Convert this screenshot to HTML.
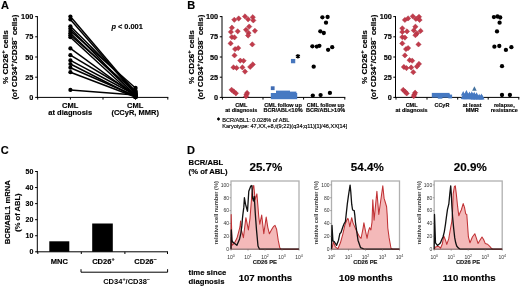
<!DOCTYPE html>
<html><head><meta charset="utf-8"><style>
html,body{margin:0;padding:0;background:#fff;}
body{width:520px;height:287px;overflow:hidden;}
svg{display:block;font-family:"Liberation Sans", sans-serif;filter:blur(0.35px);}
text{stroke-width:0.15px;}
</style></head><body>
<svg width="520" height="287" viewBox="0 0 520 287" xmlns="http://www.w3.org/2000/svg">
<rect width="520" height="287" fill="#fff"/>
<text x="1.0" y="9.0" font-size="11" text-anchor="start" font-weight="bold" fill="#000" stroke="#000" >A</text>
<text x="187.2" y="9.0" font-size="11" text-anchor="start" font-weight="bold" fill="#000" stroke="#000" >B</text>
<text x="0.8" y="154.0" font-size="11" text-anchor="start" font-weight="bold" fill="#000" stroke="#000" >C</text>
<text x="186.9" y="154.0" font-size="11" text-anchor="start" font-weight="bold" fill="#000" stroke="#000" >D</text>
<line x1="37.4" y1="16.1" x2="37.4" y2="97.9" stroke="#000" stroke-width="1" />
<line x1="35.199999999999996" y1="97.4" x2="37.4" y2="97.4" stroke="#000" stroke-width="1" />
<text x="33.3" y="99.9" font-size="7.3" text-anchor="end" font-weight="bold" fill="#000" stroke="#000" >0</text>
<line x1="35.199999999999996" y1="77.2" x2="37.4" y2="77.2" stroke="#000" stroke-width="1" />
<text x="33.3" y="79.7" font-size="7.3" text-anchor="end" font-weight="bold" fill="#000" stroke="#000" >25</text>
<line x1="35.199999999999996" y1="57.0" x2="37.4" y2="57.0" stroke="#000" stroke-width="1" />
<text x="33.3" y="59.5" font-size="7.3" text-anchor="end" font-weight="bold" fill="#000" stroke="#000" >50</text>
<line x1="35.199999999999996" y1="36.8" x2="37.4" y2="36.8" stroke="#000" stroke-width="1" />
<text x="33.3" y="39.3" font-size="7.3" text-anchor="end" font-weight="bold" fill="#000" stroke="#000" >75</text>
<line x1="35.199999999999996" y1="16.599999999999994" x2="37.4" y2="16.599999999999994" stroke="#000" stroke-width="1" />
<text x="33.3" y="19.099999999999994" font-size="7.3" text-anchor="end" font-weight="bold" fill="#000" stroke="#000" >100</text>
<line x1="36.9" y1="97.4" x2="168.3" y2="97.4" stroke="#000" stroke-width="1" />
<line x1="37.7" y1="97.4" x2="37.7" y2="99.60000000000001" stroke="#000" stroke-width="1" />
<line x1="70.4" y1="97.4" x2="70.4" y2="99.60000000000001" stroke="#000" stroke-width="1" />
<line x1="103.0" y1="97.4" x2="103.0" y2="99.60000000000001" stroke="#000" stroke-width="1" />
<line x1="135.5" y1="97.4" x2="135.5" y2="99.60000000000001" stroke="#000" stroke-width="1" />
<line x1="167.8" y1="97.4" x2="167.8" y2="99.60000000000001" stroke="#000" stroke-width="1" />
<text transform="translate(7.85,57.1) rotate(-90)" font-size="8.1" text-anchor="middle" font-weight="bold" stroke="#000">% CD26<tspan baseline-shift="3.40" font-size="5.83">+</tspan> cells</text>
<text transform="translate(17.150000000000002,57.1) rotate(-90)" font-size="8.0" text-anchor="middle" font-weight="bold" stroke="#000">(of CD34<tspan baseline-shift="3.36" font-size="5.76">+</tspan>/CD38<tspan baseline-shift="3.36" font-size="5.76">−</tspan> cells)</text>
<line x1="70.4" y1="16.5" x2="135.5" y2="93" stroke="#000" stroke-width="1.5" />
<line x1="70.4" y1="19.5" x2="135.5" y2="94" stroke="#000" stroke-width="1.5" />
<line x1="70.4" y1="26.3" x2="135.5" y2="91" stroke="#000" stroke-width="1.5" />
<line x1="70.4" y1="28.6" x2="135.5" y2="96" stroke="#000" stroke-width="1.5" />
<line x1="70.4" y1="30.9" x2="135.5" y2="88" stroke="#000" stroke-width="1.5" />
<line x1="70.4" y1="33.2" x2="135.5" y2="95" stroke="#000" stroke-width="1.5" />
<line x1="70.4" y1="35.2" x2="135.5" y2="92" stroke="#000" stroke-width="1.5" />
<line x1="70.4" y1="37.2" x2="135.5" y2="97" stroke="#000" stroke-width="1.5" />
<line x1="70.4" y1="48.4" x2="135.5" y2="96" stroke="#000" stroke-width="1.5" />
<line x1="70.4" y1="55.2" x2="135.5" y2="94" stroke="#000" stroke-width="1.5" />
<line x1="70.4" y1="60.4" x2="135.5" y2="95" stroke="#000" stroke-width="1.5" />
<line x1="70.4" y1="64" x2="135.5" y2="97" stroke="#000" stroke-width="1.5" />
<line x1="70.4" y1="67.7" x2="135.5" y2="96" stroke="#000" stroke-width="1.5" />
<line x1="70.4" y1="72.2" x2="135.5" y2="97" stroke="#000" stroke-width="1.5" />
<line x1="70.4" y1="89.9" x2="135.5" y2="95" stroke="#000" stroke-width="1.5" />
<circle cx="70.4" cy="16.5" r="2.1" fill="#000"/>
<circle cx="70.4" cy="19.5" r="2.1" fill="#000"/>
<circle cx="70.4" cy="26.3" r="2.1" fill="#000"/>
<circle cx="70.4" cy="28.6" r="2.1" fill="#000"/>
<circle cx="70.4" cy="30.9" r="2.1" fill="#000"/>
<circle cx="70.4" cy="33.2" r="2.1" fill="#000"/>
<circle cx="70.4" cy="35.2" r="2.1" fill="#000"/>
<circle cx="70.4" cy="37.2" r="2.1" fill="#000"/>
<circle cx="70.4" cy="48.4" r="2.1" fill="#000"/>
<circle cx="70.4" cy="55.2" r="2.1" fill="#000"/>
<circle cx="70.4" cy="60.4" r="2.1" fill="#000"/>
<circle cx="70.4" cy="64" r="2.1" fill="#000"/>
<circle cx="70.4" cy="67.7" r="2.1" fill="#000"/>
<circle cx="70.4" cy="72.2" r="2.1" fill="#000"/>
<circle cx="70.4" cy="89.9" r="2.1" fill="#000"/>
<circle cx="135.5" cy="93" r="2.2" fill="#000"/>
<circle cx="135.5" cy="94" r="2.2" fill="#000"/>
<circle cx="135.5" cy="91" r="2.2" fill="#000"/>
<circle cx="135.5" cy="96" r="2.2" fill="#000"/>
<circle cx="135.5" cy="88" r="2.2" fill="#000"/>
<circle cx="135.5" cy="95" r="2.2" fill="#000"/>
<circle cx="135.5" cy="92" r="2.2" fill="#000"/>
<circle cx="135.5" cy="97" r="2.2" fill="#000"/>
<circle cx="135.5" cy="96" r="2.2" fill="#000"/>
<circle cx="135.5" cy="94" r="2.2" fill="#000"/>
<circle cx="135.5" cy="95" r="2.2" fill="#000"/>
<circle cx="135.5" cy="97" r="2.2" fill="#000"/>
<circle cx="135.5" cy="96" r="2.2" fill="#000"/>
<circle cx="135.5" cy="97" r="2.2" fill="#000"/>
<circle cx="135.5" cy="95" r="2.2" fill="#000"/>
<text x="111.4" y="28.5" font-size="7.4" font-weight="bold" stroke="#000"><tspan font-style="italic">p</tspan> &lt; 0.001</text>
<text x="70.2" y="108.0" font-size="7.5" text-anchor="middle" font-weight="bold" fill="#000" stroke="#000" >CML</text>
<text x="70.2" y="114.6" font-size="7.5" text-anchor="middle" font-weight="bold" fill="#000" stroke="#000" >at diagnosis</text>
<text x="135.2" y="108.0" font-size="7.5" text-anchor="middle" font-weight="bold" fill="#000" stroke="#000" >CML</text>
<text x="135.2" y="114.6" font-size="7.5" text-anchor="middle" font-weight="bold" fill="#000" stroke="#000" >(CCyR, MMR)</text>
<line x1="222.0" y1="16.1" x2="222.0" y2="97.9" stroke="#000" stroke-width="1" />
<line x1="219.8" y1="97.4" x2="222.0" y2="97.4" stroke="#000" stroke-width="1" />
<text x="218.1" y="99.9" font-size="7.3" text-anchor="end" font-weight="bold" fill="#000" stroke="#000" >0</text>
<line x1="219.8" y1="77.2" x2="222.0" y2="77.2" stroke="#000" stroke-width="1" />
<text x="218.1" y="79.7" font-size="7.3" text-anchor="end" font-weight="bold" fill="#000" stroke="#000" >25</text>
<line x1="219.8" y1="57.0" x2="222.0" y2="57.0" stroke="#000" stroke-width="1" />
<text x="218.1" y="59.5" font-size="7.3" text-anchor="end" font-weight="bold" fill="#000" stroke="#000" >50</text>
<line x1="219.8" y1="36.8" x2="222.0" y2="36.8" stroke="#000" stroke-width="1" />
<text x="218.1" y="39.3" font-size="7.3" text-anchor="end" font-weight="bold" fill="#000" stroke="#000" >75</text>
<line x1="219.8" y1="16.599999999999994" x2="222.0" y2="16.599999999999994" stroke="#000" stroke-width="1" />
<text x="218.1" y="19.099999999999994" font-size="7.3" text-anchor="end" font-weight="bold" fill="#000" stroke="#000" >100</text>
<line x1="221.5" y1="97.4" x2="345.3" y2="97.4" stroke="#000" stroke-width="1" />
<line x1="222.4" y1="97.4" x2="222.4" y2="99.60000000000001" stroke="#000" stroke-width="1" />
<line x1="263.0" y1="97.4" x2="263.0" y2="99.60000000000001" stroke="#000" stroke-width="1" />
<line x1="303.6" y1="97.4" x2="303.6" y2="99.60000000000001" stroke="#000" stroke-width="1" />
<line x1="344.8" y1="97.4" x2="344.8" y2="99.60000000000001" stroke="#000" stroke-width="1" />
<text transform="translate(193.75,57.1) rotate(-90)" font-size="8.1" text-anchor="middle" font-weight="bold" stroke="#000">% CD26<tspan baseline-shift="3.40" font-size="5.83">+</tspan> cells</text>
<text transform="translate(202.75,57.1) rotate(-90)" font-size="8.0" text-anchor="middle" font-weight="bold" stroke="#000">(of CD34<tspan baseline-shift="3.36" font-size="5.76">+</tspan>/CD38<tspan baseline-shift="3.36" font-size="5.76">−</tspan> cells)</text>
<path d="M234.3 17.150000000000002L236.95000000000002 19.8L234.3 22.45L231.65 19.8Z" fill="#c23b4b" stroke="#a32d3d" stroke-width="0.45"/>
<path d="M238.7 15.85L241.35 18.5L238.7 21.15L236.04999999999998 18.5Z" fill="#c23b4b" stroke="#a32d3d" stroke-width="0.45"/>
<path d="M245 13.749999999999998L247.65 16.4L245 19.049999999999997L242.35 16.4Z" fill="#c23b4b" stroke="#a32d3d" stroke-width="0.45"/>
<path d="M248.1 16.650000000000002L250.75 19.3L248.1 21.95L245.45 19.3Z" fill="#c23b4b" stroke="#a32d3d" stroke-width="0.45"/>
<path d="M252.8 14.549999999999999L255.45000000000002 17.2L252.8 19.849999999999998L250.15 17.2Z" fill="#c23b4b" stroke="#a32d3d" stroke-width="0.45"/>
<path d="M253.3 17.75L255.95000000000002 20.4L253.3 23.049999999999997L250.65 20.4Z" fill="#c23b4b" stroke="#a32d3d" stroke-width="0.45"/>
<path d="M231.9 25.05L234.55 27.7L231.9 30.349999999999998L229.25 27.7Z" fill="#c23b4b" stroke="#a32d3d" stroke-width="0.45"/>
<path d="M230.9 29.25L233.55 31.9L230.9 34.55L228.25 31.9Z" fill="#c23b4b" stroke="#a32d3d" stroke-width="0.45"/>
<path d="M237.7 28.650000000000002L240.35 31.3L237.7 33.95L235.04999999999998 31.3Z" fill="#c23b4b" stroke="#a32d3d" stroke-width="0.45"/>
<path d="M249.2 23.950000000000003L251.85 26.6L249.2 29.25L246.54999999999998 26.6Z" fill="#c23b4b" stroke="#a32d3d" stroke-width="0.45"/>
<path d="M246 27.150000000000002L248.65 29.8L246 32.45L243.35 29.8Z" fill="#c23b4b" stroke="#a32d3d" stroke-width="0.45"/>
<path d="M248.6 30.25L251.25 32.9L248.6 35.55L245.95 32.9Z" fill="#c23b4b" stroke="#a32d3d" stroke-width="0.45"/>
<path d="M254.9 28.150000000000002L257.55 30.8L254.9 33.45L252.25 30.8Z" fill="#c23b4b" stroke="#a32d3d" stroke-width="0.45"/>
<path d="M231.9 34.45L234.55 37.1L231.9 39.75L229.25 37.1Z" fill="#c23b4b" stroke="#a32d3d" stroke-width="0.45"/>
<path d="M234.5 34.75L237.15 37.4L234.5 40.05L231.85 37.4Z" fill="#c23b4b" stroke="#a32d3d" stroke-width="0.45"/>
<path d="M248.1 32.85L250.75 35.5L248.1 38.15L245.45 35.5Z" fill="#c23b4b" stroke="#a32d3d" stroke-width="0.45"/>
<path d="M230.6 40.75L233.25 43.4L230.6 46.05L227.95 43.4Z" fill="#c23b4b" stroke="#a32d3d" stroke-width="0.45"/>
<path d="M252.3 41.75L254.95000000000002 44.4L252.3 47.05L249.65 44.4Z" fill="#c23b4b" stroke="#a32d3d" stroke-width="0.45"/>
<path d="M235.1 46.45L237.75 49.1L235.1 51.75L232.45 49.1Z" fill="#c23b4b" stroke="#a32d3d" stroke-width="0.45"/>
<path d="M238.2 45.45L240.85 48.1L238.2 50.75L235.54999999999998 48.1Z" fill="#c23b4b" stroke="#a32d3d" stroke-width="0.45"/>
<path d="M234.5 52.75L237.15 55.4L234.5 58.05L231.85 55.4Z" fill="#c23b4b" stroke="#a32d3d" stroke-width="0.45"/>
<path d="M240.3 57.95L242.95000000000002 60.6L240.3 63.25L237.65 60.6Z" fill="#c23b4b" stroke="#a32d3d" stroke-width="0.45"/>
<path d="M243.6 58.15L246.25 60.8L243.6 63.449999999999996L240.95 60.8Z" fill="#c23b4b" stroke="#a32d3d" stroke-width="0.45"/>
<path d="M252.8 61.75000000000001L255.45000000000002 64.4L252.8 67.05000000000001L250.15 64.4Z" fill="#c23b4b" stroke="#a32d3d" stroke-width="0.45"/>
<path d="M233.5 64.75L236.15 67.4L233.5 70.05000000000001L230.85 67.4Z" fill="#c23b4b" stroke="#a32d3d" stroke-width="0.45"/>
<path d="M236.6 65.25L239.25 67.9L236.6 70.55000000000001L233.95 67.9Z" fill="#c23b4b" stroke="#a32d3d" stroke-width="0.45"/>
<path d="M242.4 64.75L245.05 67.4L242.4 70.05000000000001L239.75 67.4Z" fill="#c23b4b" stroke="#a32d3d" stroke-width="0.45"/>
<path d="M250.2 64.25L252.85 66.9L250.2 69.55000000000001L247.54999999999998 66.9Z" fill="#c23b4b" stroke="#a32d3d" stroke-width="0.45"/>
<path d="M245 68.94999999999999L247.65 71.6L245 74.25L242.35 71.6Z" fill="#c23b4b" stroke="#a32d3d" stroke-width="0.45"/>
<path d="M231.6 87.14999999999999L234.25 89.8L231.6 92.45L228.95 89.8Z" fill="#c23b4b" stroke="#a32d3d" stroke-width="0.45"/>
<path d="M233.7 88.85L236.35 91.5L233.7 94.15L231.04999999999998 91.5Z" fill="#c23b4b" stroke="#a32d3d" stroke-width="0.45"/>
<path d="M235.9 90.64999999999999L238.55 93.3L235.9 95.95L233.25 93.3Z" fill="#c23b4b" stroke="#a32d3d" stroke-width="0.45"/>
<path d="M247.1 90.25L249.75 92.9L247.1 95.55000000000001L244.45 92.9Z" fill="#c23b4b" stroke="#a32d3d" stroke-width="0.45"/>
<path d="M246.5 91.94999999999999L249.15 94.6L246.5 97.25L243.85 94.6Z" fill="#c23b4b" stroke="#a32d3d" stroke-width="0.45"/>
<path d="M246 93.75L248.65 96.4L246 99.05000000000001L243.35 96.4Z" fill="#c23b4b" stroke="#a32d3d" stroke-width="0.45"/>
<rect x="290.95000000000005" y="58.95" width="4.3" height="4.3" fill="#4676bd"/>
<rect x="270.8" y="86.3" width="3.8" height="3.8" fill="#3f6cb4"/>
<rect x="270.8" y="93.0" width="26.40" height="6.20" fill="#4679c2"/>
<rect x="276.0" y="90.6" width="14.00" height="2.60" fill="#4679c2"/>
<rect x="290.0" y="91.6" width="6.40" height="1.60" fill="#4679c2"/>
<path d="M297.9 54.0V58.6M295.9 55.15L299.9 57.45M299.9 55.15L295.9 57.45" fill="none" stroke="#000" stroke-width="1.35" />
<circle cx="297.9" cy="56.3" r="1.1" fill="#000"/>
<circle cx="322.4" cy="17.3" r="2.15" fill="#000"/>
<circle cx="327.6" cy="17" r="2.15" fill="#000"/>
<circle cx="326" cy="22.7" r="2.15" fill="#000"/>
<circle cx="320.3" cy="31.3" r="2.15" fill="#000"/>
<circle cx="323.8" cy="33" r="2.15" fill="#000"/>
<circle cx="312.4" cy="46.3" r="2.15" fill="#000"/>
<circle cx="316.8" cy="46.6" r="2.15" fill="#000"/>
<circle cx="319.4" cy="45.8" r="2.15" fill="#000"/>
<circle cx="328.1" cy="49.8" r="2.15" fill="#000"/>
<circle cx="332.2" cy="47.2" r="2.15" fill="#000"/>
<circle cx="313.7" cy="66.7" r="2.15" fill="#000"/>
<circle cx="312.8" cy="95.6" r="2.15" fill="#000"/>
<circle cx="320.6" cy="95.1" r="2.15" fill="#000"/>
<circle cx="329.9" cy="92.9" r="2.15" fill="#000"/>
<text x="241.3" y="106.6" font-size="5.5" text-anchor="middle" font-weight="bold" fill="#000" stroke="#000" >CML</text>
<text x="241.3" y="111.6" font-size="5.5" text-anchor="middle" font-weight="bold" fill="#000" stroke="#000" >at diagnosis</text>
<text x="283.1" y="106.6" font-size="5.5" text-anchor="middle" font-weight="bold" fill="#000" stroke="#000" >CML follow up</text>
<text x="283.1" y="111.6" font-size="5.5" text-anchor="middle" font-weight="bold" fill="#000" stroke="#000" >BCR/ABL&lt;10%</text>
<text x="325.6" y="106.6" font-size="5.5" text-anchor="middle" font-weight="bold" fill="#000" stroke="#000" >CML follow up</text>
<text x="325.6" y="111.6" font-size="5.5" text-anchor="middle" font-weight="bold" fill="#000" stroke="#000" >BCR/ABL&gt;10%</text>
<path d="M218.5 117.4V120.6M217.1 118.2L219.9 119.8M219.9 118.2L217.1 119.8" fill="none" stroke="#000" stroke-width="0.95" />
<circle cx="218.5" cy="119.0" r="0.6" fill="#000"/>
<text x="222.2" y="122.1" font-size="5.6" text-anchor="start" font-weight="normal" fill="#000" stroke="#000" stroke-width="0.12">BCR/ABL1: 0.028% of ABL</text>
<text x="222.2" y="127.7" font-size="5.6" text-anchor="start" font-weight="normal" fill="#000" stroke="#000" stroke-width="0.12">Karyotype: 47,XX,+8,t(9;22)(q34;q11)[1]/46,XX[14]</text>
<line x1="395.5" y1="16.1" x2="395.5" y2="97.9" stroke="#000" stroke-width="1" />
<line x1="393.3" y1="97.4" x2="395.5" y2="97.4" stroke="#000" stroke-width="1" />
<text x="391.9" y="99.9" font-size="7.3" text-anchor="end" font-weight="bold" fill="#000" stroke="#000" >0</text>
<line x1="393.3" y1="77.2" x2="395.5" y2="77.2" stroke="#000" stroke-width="1" />
<text x="391.9" y="79.7" font-size="7.3" text-anchor="end" font-weight="bold" fill="#000" stroke="#000" >25</text>
<line x1="393.3" y1="57.0" x2="395.5" y2="57.0" stroke="#000" stroke-width="1" />
<text x="391.9" y="59.5" font-size="7.3" text-anchor="end" font-weight="bold" fill="#000" stroke="#000" >50</text>
<line x1="393.3" y1="36.8" x2="395.5" y2="36.8" stroke="#000" stroke-width="1" />
<text x="391.9" y="39.3" font-size="7.3" text-anchor="end" font-weight="bold" fill="#000" stroke="#000" >75</text>
<line x1="393.3" y1="16.599999999999994" x2="395.5" y2="16.599999999999994" stroke="#000" stroke-width="1" />
<text x="391.9" y="19.099999999999994" font-size="7.3" text-anchor="end" font-weight="bold" fill="#000" stroke="#000" >100</text>
<line x1="395.0" y1="97.4" x2="519.3" y2="97.4" stroke="#000" stroke-width="1" />
<line x1="396.0" y1="97.4" x2="396.0" y2="99.60000000000001" stroke="#000" stroke-width="1" />
<line x1="427.0" y1="97.4" x2="427.0" y2="99.60000000000001" stroke="#000" stroke-width="1" />
<line x1="457.7" y1="97.4" x2="457.7" y2="99.60000000000001" stroke="#000" stroke-width="1" />
<line x1="488.2" y1="97.4" x2="488.2" y2="99.60000000000001" stroke="#000" stroke-width="1" />
<line x1="518.8" y1="97.4" x2="518.8" y2="99.60000000000001" stroke="#000" stroke-width="1" />
<text transform="translate(367.45000000000005,57.1) rotate(-90)" font-size="8.1" text-anchor="middle" font-weight="bold" stroke="#000">% CD26<tspan baseline-shift="3.40" font-size="5.83">+</tspan> cells</text>
<text transform="translate(376.45000000000005,57.1) rotate(-90)" font-size="8.0" text-anchor="middle" font-weight="bold" stroke="#000">(of CD34<tspan baseline-shift="3.36" font-size="5.76">+</tspan>/CD38<tspan baseline-shift="3.36" font-size="5.76">−</tspan> cells)</text>
<path d="M404.9 17.25L407.54999999999995 19.9L404.9 22.549999999999997L402.25 19.9Z" fill="#c23b4b" stroke="#a32d3d" stroke-width="0.45"/>
<path d="M408.1 15.749999999999998L410.75 18.4L408.1 21.049999999999997L405.45000000000005 18.4Z" fill="#c23b4b" stroke="#a32d3d" stroke-width="0.45"/>
<path d="M412.8 13.65L415.45 16.3L412.8 18.95L410.15000000000003 16.3Z" fill="#c23b4b" stroke="#a32d3d" stroke-width="0.45"/>
<path d="M415.9 16.25L418.54999999999995 18.9L415.9 21.549999999999997L413.25 18.9Z" fill="#c23b4b" stroke="#a32d3d" stroke-width="0.45"/>
<path d="M419 14.15L421.65 16.8L419 19.45L416.35 16.8Z" fill="#c23b4b" stroke="#a32d3d" stroke-width="0.45"/>
<path d="M419.6 17.25L422.25 19.9L419.6 22.549999999999997L416.95000000000005 19.9Z" fill="#c23b4b" stroke="#a32d3d" stroke-width="0.45"/>
<path d="M402.3 25.650000000000002L404.95 28.3L402.3 30.95L399.65000000000003 28.3Z" fill="#c23b4b" stroke="#a32d3d" stroke-width="0.45"/>
<path d="M402.3 29.25L404.95 31.9L402.3 34.55L399.65000000000003 31.9Z" fill="#c23b4b" stroke="#a32d3d" stroke-width="0.45"/>
<path d="M407 28.75L409.65 31.4L407 34.05L404.35 31.4Z" fill="#c23b4b" stroke="#a32d3d" stroke-width="0.45"/>
<path d="M415.4 24.05L418.04999999999995 26.7L415.4 29.349999999999998L412.75 26.7Z" fill="#c23b4b" stroke="#a32d3d" stroke-width="0.45"/>
<path d="M413.8 27.75L416.45 30.4L413.8 33.05L411.15000000000003 30.4Z" fill="#c23b4b" stroke="#a32d3d" stroke-width="0.45"/>
<path d="M416.9 30.85L419.54999999999995 33.5L416.9 36.15L414.25 33.5Z" fill="#c23b4b" stroke="#a32d3d" stroke-width="0.45"/>
<path d="M420.6 28.25L423.25 30.9L420.6 33.55L417.95000000000005 30.9Z" fill="#c23b4b" stroke="#a32d3d" stroke-width="0.45"/>
<path d="M402.3 34.45L404.95 37.1L402.3 39.75L399.65000000000003 37.1Z" fill="#c23b4b" stroke="#a32d3d" stroke-width="0.45"/>
<path d="M404.9 34.95L407.54999999999995 37.6L404.9 40.25L402.25 37.6Z" fill="#c23b4b" stroke="#a32d3d" stroke-width="0.45"/>
<path d="M415.4 32.550000000000004L418.04999999999995 35.2L415.4 37.85L412.75 35.2Z" fill="#c23b4b" stroke="#a32d3d" stroke-width="0.45"/>
<path d="M402.3 40.75L404.95 43.4L402.3 46.05L399.65000000000003 43.4Z" fill="#c23b4b" stroke="#a32d3d" stroke-width="0.45"/>
<path d="M418.5 41.75L421.15 44.4L418.5 47.05L415.85 44.4Z" fill="#c23b4b" stroke="#a32d3d" stroke-width="0.45"/>
<path d="M406 46.45L408.65 49.1L406 51.75L403.35 49.1Z" fill="#c23b4b" stroke="#a32d3d" stroke-width="0.45"/>
<path d="M408.1 45.45L410.75 48.1L408.1 50.75L405.45000000000005 48.1Z" fill="#c23b4b" stroke="#a32d3d" stroke-width="0.45"/>
<path d="M404.9 52.75L407.54999999999995 55.4L404.9 58.05L402.25 55.4Z" fill="#c23b4b" stroke="#a32d3d" stroke-width="0.45"/>
<path d="M409.6 57.550000000000004L412.25 60.2L409.6 62.85L406.95000000000005 60.2Z" fill="#c23b4b" stroke="#a32d3d" stroke-width="0.45"/>
<path d="M412.2 58.050000000000004L414.84999999999997 60.7L412.2 63.35L409.55 60.7Z" fill="#c23b4b" stroke="#a32d3d" stroke-width="0.45"/>
<path d="M419 61.25L421.65 63.9L419 66.55L416.35 63.9Z" fill="#c23b4b" stroke="#a32d3d" stroke-width="0.45"/>
<path d="M403.9 64.35L406.54999999999995 67L403.9 69.65L401.25 67Z" fill="#c23b4b" stroke="#a32d3d" stroke-width="0.45"/>
<path d="M406.5 65.44999999999999L409.15 68.1L406.5 70.75L403.85 68.1Z" fill="#c23b4b" stroke="#a32d3d" stroke-width="0.45"/>
<path d="M411.2 64.85L413.84999999999997 67.5L411.2 70.15L408.55 67.5Z" fill="#c23b4b" stroke="#a32d3d" stroke-width="0.45"/>
<path d="M416.9 63.85L419.54999999999995 66.5L416.9 69.15L414.25 66.5Z" fill="#c23b4b" stroke="#a32d3d" stroke-width="0.45"/>
<path d="M413.3 69.55L415.95 72.2L413.3 74.85000000000001L410.65000000000003 72.2Z" fill="#c23b4b" stroke="#a32d3d" stroke-width="0.45"/>
<path d="M403.2 87.25L405.84999999999997 89.9L403.2 92.55000000000001L400.55 89.9Z" fill="#c23b4b" stroke="#a32d3d" stroke-width="0.45"/>
<path d="M405 88.94999999999999L407.65 91.6L405 94.25L402.35 91.6Z" fill="#c23b4b" stroke="#a32d3d" stroke-width="0.45"/>
<path d="M406.7 90.75L409.34999999999997 93.4L406.7 96.05000000000001L404.05 93.4Z" fill="#c23b4b" stroke="#a32d3d" stroke-width="0.45"/>
<path d="M415.1 90.05L417.75 92.7L415.1 95.35000000000001L412.45000000000005 92.7Z" fill="#c23b4b" stroke="#a32d3d" stroke-width="0.45"/>
<path d="M414.4 91.85L417.04999999999995 94.5L414.4 97.15L411.75 94.5Z" fill="#c23b4b" stroke="#a32d3d" stroke-width="0.45"/>
<path d="M413.7 93.55L416.34999999999997 96.2L413.7 98.85000000000001L411.05 96.2Z" fill="#c23b4b" stroke="#a32d3d" stroke-width="0.45"/>
<rect x="431.8" y="92.9" width="17.80" height="4.70" fill="#4679c2"/>
<rect x="437.8" y="97.0" width="4.60" height="1.70" fill="#4679c2"/>
<rect x="448.3" y="94.6" width="3.8" height="3.8" fill="#4679c2"/>
<rect x="446.59999999999997" y="94.0" width="3.2" height="3.2" fill="#4679c2"/>
<path d="M461.5 99.3L463.2 94L466.4 93L469.5 93.8L472 93.2L476.6 94.2L478.5 95.6L481.4 96L483.6 99.3Z" fill="#4679c2" stroke="none" stroke-width="1" />
<path d="M474.4 86.2L476.70 90.7L472.10 90.7Z" fill="#44729f"/>
<path d="M463.2 91.1L465.50 95.6L460.90 95.6Z" fill="#4679c2"/>
<path d="M466.4 90.0L468.70 94.5L464.10 94.5Z" fill="#4679c2"/>
<path d="M469.5 91.6L471.80 96.1L467.20 96.1Z" fill="#4679c2"/>
<path d="M471.8 91.3L474.10 95.8L469.50 95.8Z" fill="#4679c2"/>
<path d="M474.2 91.8L476.50 96.3L471.90 96.3Z" fill="#4679c2"/>
<path d="M476.6 92.3L478.90 96.8L474.30 96.8Z" fill="#4679c2"/>
<path d="M479.2 93.7L481.50 98.2L476.90 98.2Z" fill="#4679c2"/>
<path d="M481.4 93.5L483.70 98.0L479.10 98.0Z" fill="#4679c2"/>
<path d="M463 94.5L465.30 99.0L460.70 99.0Z" fill="#4679c2"/>
<path d="M465.5 94.8L467.80 99.3L463.20 99.3Z" fill="#4679c2"/>
<path d="M468 94.5L470.30 99.0L465.70 99.0Z" fill="#4679c2"/>
<path d="M470.5 94.8L472.80 99.3L468.20 99.3Z" fill="#4679c2"/>
<path d="M473 95L475.30 99.5L470.70 99.5Z" fill="#4679c2"/>
<path d="M475.5 95L477.80 99.5L473.20 99.5Z" fill="#4679c2"/>
<path d="M478 95L480.30 99.5L475.70 99.5Z" fill="#4679c2"/>
<path d="M480.5 95L482.80 99.5L478.20 99.5Z" fill="#4679c2"/>
<path d="M482.3 95L484.60 99.5L480.00 99.5Z" fill="#4679c2"/>
<circle cx="493.9" cy="17.1" r="2.15" fill="#000"/>
<circle cx="497.5" cy="16.5" r="2.15" fill="#000"/>
<circle cx="500.2" cy="17.5" r="2.15" fill="#000"/>
<circle cx="499.6" cy="22.7" r="2.15" fill="#000"/>
<circle cx="497" cy="31.4" r="2.15" fill="#000"/>
<circle cx="494.4" cy="46.7" r="2.15" fill="#000"/>
<circle cx="499.3" cy="46" r="2.15" fill="#000"/>
<circle cx="505.9" cy="49.9" r="2.15" fill="#000"/>
<circle cx="511.4" cy="47.2" r="2.15" fill="#000"/>
<circle cx="502" cy="66.2" r="2.15" fill="#000"/>
<circle cx="502" cy="95" r="2.15" fill="#000"/>
<circle cx="509.9" cy="95" r="2.15" fill="#000"/>
<text x="411.6" y="106.6" font-size="5.5" text-anchor="middle" font-weight="bold" fill="#000" stroke="#000" >CML</text>
<text x="411.6" y="111.6" font-size="5.5" text-anchor="middle" font-weight="bold" fill="#000" stroke="#000" >at diagnosis</text>
<text x="441.9" y="106.8" font-size="5.5" text-anchor="middle" font-weight="bold" fill="#000" stroke="#000" >CCyR</text>
<text x="472.2" y="106.6" font-size="5.5" text-anchor="middle" font-weight="bold" fill="#000" stroke="#000" >at least</text>
<text x="472.2" y="111.6" font-size="5.5" text-anchor="middle" font-weight="bold" fill="#000" stroke="#000" >MMR</text>
<text x="504.3" y="106.6" font-size="5.5" text-anchor="middle" font-weight="bold" fill="#000" stroke="#000" >relapse,</text>
<text x="504.3" y="111.6" font-size="5.5" text-anchor="middle" font-weight="bold" fill="#000" stroke="#000" >resistance</text>
<line x1="37.3" y1="171.0" x2="37.3" y2="252.3" stroke="#000" stroke-width="1" />
<line x1="35.099999999999994" y1="251.8" x2="37.3" y2="251.8" stroke="#000" stroke-width="1" />
<text x="33.3" y="254.3" font-size="7" text-anchor="end" font-weight="bold" fill="#000" stroke="#000" >0</text>
<line x1="35.099999999999994" y1="235.74" x2="37.3" y2="235.74" stroke="#000" stroke-width="1" />
<text x="33.3" y="238.24" font-size="7" text-anchor="end" font-weight="bold" fill="#000" stroke="#000" >10</text>
<line x1="35.099999999999994" y1="219.68" x2="37.3" y2="219.68" stroke="#000" stroke-width="1" />
<text x="33.3" y="222.18" font-size="7" text-anchor="end" font-weight="bold" fill="#000" stroke="#000" >20</text>
<line x1="35.099999999999994" y1="203.62" x2="37.3" y2="203.62" stroke="#000" stroke-width="1" />
<text x="33.3" y="206.12" font-size="7" text-anchor="end" font-weight="bold" fill="#000" stroke="#000" >30</text>
<line x1="35.099999999999994" y1="187.56" x2="37.3" y2="187.56" stroke="#000" stroke-width="1" />
<text x="33.3" y="190.06" font-size="7" text-anchor="end" font-weight="bold" fill="#000" stroke="#000" >40</text>
<line x1="35.099999999999994" y1="171.5" x2="37.3" y2="171.5" stroke="#000" stroke-width="1" />
<text x="33.3" y="174.0" font-size="7" text-anchor="end" font-weight="bold" fill="#000" stroke="#000" >50</text>
<line x1="36.8" y1="251.8" x2="168.0" y2="251.8" stroke="#000" stroke-width="1" />
<line x1="37.8" y1="251.8" x2="37.8" y2="254.0" stroke="#000" stroke-width="1" />
<line x1="81.3" y1="251.8" x2="81.3" y2="254.0" stroke="#000" stroke-width="1" />
<line x1="124.9" y1="251.8" x2="124.9" y2="254.0" stroke="#000" stroke-width="1" />
<line x1="167.5" y1="251.8" x2="167.5" y2="254.0" stroke="#000" stroke-width="1" />
<rect x="49.3" y="241.3" width="20" height="10.5" fill="#000"/>
<rect x="92.2" y="223.5" width="20.6" height="28.30000000000001" fill="#000"/>
<text x="59.3" y="264.4" font-size="7.5" text-anchor="middle" font-weight="bold" fill="#000" stroke="#000" >MNC</text>
<text x="92.2" y="264.4" font-size="7.5" font-weight="bold" stroke="#000">CD26<tspan baseline-shift="3.15" font-size="5.40">+</tspan></text>
<text x="134.3" y="264.4" font-size="7.5" font-weight="bold" stroke="#000">CD26<tspan baseline-shift="3.15" font-size="5.40">−</tspan></text>
<path d="M81.0 269.2V272.2H167.6V269.2" fill="none" stroke="#000" stroke-width="1" />
<text x="126.6" y="284.3" font-size="7.5" font-weight="bold" text-anchor="middle">CD34<tspan baseline-shift="3.15" font-size="5.40">+</tspan>/CD38<tspan baseline-shift="3.15" font-size="5.40">−</tspan></text>
<text transform="translate(10.2,212.3) rotate(-90)" font-size="7.65" text-anchor="middle" font-weight="bold" stroke="#000">BCR/ABL1 mRNA</text>
<text transform="translate(20.3,212.6) rotate(-90)" font-size="7.55" text-anchor="middle" font-weight="bold" stroke="#000">(% of ABL)</text>
<text x="188.6" y="165.4" font-size="7.7" text-anchor="start" font-weight="bold" fill="#000" stroke="#000" >BCR/ABL</text>
<text x="188.6" y="174.0" font-size="7.7" text-anchor="start" font-weight="bold" fill="#000" stroke="#000" >(% of ABL)</text>
<text x="188.6" y="275.2" font-size="7.7" text-anchor="start" font-weight="bold" fill="#000" stroke="#000" >time since</text>
<text x="188.6" y="283.6" font-size="7.7" text-anchor="start" font-weight="bold" fill="#000" stroke="#000" >diagnosis</text>
<polygon points="231.00,249.20 231.20,214.48 232.10,245.34 234.60,242.77 236.90,238.27 238.70,231.84 240.00,226.69 240.60,220.91 241.40,229.91 243.40,237.63 245.90,217.69 248.40,229.91 250.00,218.34 251.90,193.90 253.20,186.19 253.80,185.54 255.10,199.69 256.90,193.90 258.80,217.05 259.80,224.12 261.70,215.12 263.80,233.77 266.20,217.05 267.80,227.34 269.40,233.77 271.80,229.27 273.40,226.69 275.00,225.41 276.60,229.27 278.20,240.20 279.80,247.91 281.00,249.20 299.00,249.20" fill="#f4b9b9"/>
<rect x="231.0" y="181.0" width="68.0" height="68.19999999999999" fill="none" stroke="#b0b0b0" stroke-width="1.3"/>
<polyline points="231.00,249.20 231.20,214.48 232.10,245.34 234.60,242.77 236.90,238.27 238.70,231.84 240.00,226.69 240.60,220.91 241.40,229.91 243.40,237.63 245.90,217.69 248.40,229.91 250.00,218.34 251.90,193.90 253.20,186.19 253.80,185.54 255.10,199.69 256.90,193.90 258.80,217.05 259.80,224.12 261.70,215.12 263.80,233.77 266.20,217.05 267.80,227.34 269.40,233.77 271.80,229.27 273.40,226.69 275.00,225.41 276.60,229.27 278.20,240.20 279.80,247.91 281.00,249.20 299.00,249.20" fill="none" stroke="#c03235" stroke-width="1.05" stroke-linejoin="round"/>
<polyline points="231.00,249.20 231.30,229.91 231.90,240.20 232.80,242.13 236.90,245.34 239.60,238.91 240.90,233.12 241.90,225.41 242.40,218.98 242.80,215.12 243.80,207.41 244.40,197.76 245.50,204.19 247.50,211.26 248.80,191.33 250.70,186.19 251.90,185.54 252.50,197.76 253.50,200.97 254.30,196.47 255.30,213.83 256.50,229.91 258.00,245.98 259.50,249.20 299.00,249.20" fill="none" stroke="#111" stroke-width="1.3" stroke-linejoin="round"/>
<line x1="229.5" y1="184.9" x2="231.0" y2="184.9" stroke="#777" stroke-width="0.6" />
<text x="229.0" y="186.70000000000002" font-size="5.0" text-anchor="end" font-weight="normal" fill="#333" >100</text>
<line x1="229.5" y1="197.76" x2="231.0" y2="197.76" stroke="#777" stroke-width="0.6" />
<text x="229.0" y="199.56" font-size="5.0" text-anchor="end" font-weight="normal" fill="#333" >80</text>
<line x1="229.5" y1="210.62" x2="231.0" y2="210.62" stroke="#777" stroke-width="0.6" />
<text x="229.0" y="212.42000000000002" font-size="5.0" text-anchor="end" font-weight="normal" fill="#333" >60</text>
<line x1="229.5" y1="223.48" x2="231.0" y2="223.48" stroke="#777" stroke-width="0.6" />
<text x="229.0" y="225.28" font-size="5.0" text-anchor="end" font-weight="normal" fill="#333" >40</text>
<line x1="229.5" y1="236.33999999999997" x2="231.0" y2="236.33999999999997" stroke="#777" stroke-width="0.6" />
<text x="229.0" y="238.14" font-size="5.0" text-anchor="end" font-weight="normal" fill="#333" >20</text>
<line x1="229.5" y1="249.2" x2="231.0" y2="249.2" stroke="#777" stroke-width="0.6" />
<text x="229.0" y="251.0" font-size="5.0" text-anchor="end" font-weight="normal" fill="#333" >0</text>
<line x1="231.0" y1="249.2" x2="231.0" y2="250.7" stroke="#777" stroke-width="0.6" />
<text x="231.0" y="258.9" font-size="5.0" text-anchor="middle" fill="#333">10<tspan dy="-1.9" font-size="3.6">0</tspan></text>
<line x1="248.0" y1="249.2" x2="248.0" y2="250.7" stroke="#777" stroke-width="0.6" />
<text x="248.0" y="258.9" font-size="5.0" text-anchor="middle" fill="#333">10<tspan dy="-1.9" font-size="3.6">1</tspan></text>
<line x1="265.0" y1="249.2" x2="265.0" y2="250.7" stroke="#777" stroke-width="0.6" />
<text x="265.0" y="258.9" font-size="5.0" text-anchor="middle" fill="#333">10<tspan dy="-1.9" font-size="3.6">2</tspan></text>
<line x1="282.0" y1="249.2" x2="282.0" y2="250.7" stroke="#777" stroke-width="0.6" />
<text x="282.0" y="258.9" font-size="5.0" text-anchor="middle" fill="#333">10<tspan dy="-1.9" font-size="3.6">3</tspan></text>
<line x1="299.0" y1="249.2" x2="299.0" y2="250.7" stroke="#777" stroke-width="0.6" />
<text x="299.0" y="258.9" font-size="5.0" text-anchor="middle" fill="#333">10<tspan dy="-1.9" font-size="3.6">4</tspan></text>
<text x="264.8" y="263.9" font-size="5.8" text-anchor="middle" font-weight="bold" fill="#222" stroke="#222" >CD26 PE</text>
<line x1="231.0" y1="249.2" x2="299.0" y2="249.2" stroke="#7a3a3a" stroke-width="0.6" />
<text transform="translate(217.5,212.8) rotate(-90)" font-size="5.65" text-anchor="middle" font-weight="bold" fill="#333">relative cell number (%)</text>
<text x="265.9" y="171.4" font-size="11.6" text-anchor="middle" font-weight="bold" fill="#000" stroke="#000" >25.7%</text>
<text x="265.4" y="281.4" font-size="9.65" text-anchor="middle" font-weight="bold" fill="#000" stroke="#000" >107 months</text>
<polygon points="331.50,249.20 332.50,245.98 333.50,242.13 335.40,246.95 337.90,248.81 340.40,242.77 342.90,233.77 344.80,225.41 346.70,220.26 347.90,218.34 348.60,220.26 349.80,226.69 351.70,217.69 353.00,222.84 355.50,228.62 357.30,232.48 359.20,236.34 361.10,238.27 363.00,228.62 363.90,222.84 365.50,231.20 367.10,238.27 368.40,231.20 369.60,227.66 370.90,229.91 372.00,222.19 372.80,199.69 374.10,220.26 376.90,191.33 378.80,214.48 382.80,185.80 384.10,198.40 385.30,202.26 386.60,206.76 387.20,215.12 387.80,227.98 389.10,237.63 391.00,248.24 392.50,249.20 399.50,249.20" fill="#f4b9b9"/>
<rect x="331.5" y="181.0" width="68.0" height="68.19999999999999" fill="none" stroke="#b0b0b0" stroke-width="1.3"/>
<polyline points="331.50,249.20 332.50,245.98 333.50,242.13 335.40,246.95 337.90,248.81 340.40,242.77 342.90,233.77 344.80,225.41 346.70,220.26 347.90,218.34 348.60,220.26 349.80,226.69 351.70,217.69 353.00,222.84 355.50,228.62 357.30,232.48 359.20,236.34 361.10,238.27 363.00,228.62 363.90,222.84 365.50,231.20 367.10,238.27 368.40,231.20 369.60,227.66 370.90,229.91 372.00,222.19 372.80,199.69 374.10,220.26 376.90,191.33 378.80,214.48 382.80,185.80 384.10,198.40 385.30,202.26 386.60,206.76 387.20,215.12 387.80,227.98 389.10,237.63 391.00,248.24 392.50,249.20 399.50,249.20" fill="none" stroke="#c03235" stroke-width="1.05" stroke-linejoin="round"/>
<polyline points="331.50,249.20 332.00,225.41 332.90,240.84 334.10,241.48 335.00,242.77 336.60,245.34 338.50,240.20 339.80,233.77 341.00,232.48 342.90,226.69 344.20,223.48 345.40,221.55 346.10,215.12 347.30,204.19 348.60,194.55 350.10,185.09 350.80,191.97 351.70,204.19 352.60,209.98 354.20,210.62 354.80,215.12 355.50,222.84 356.70,231.20 358.00,240.20 360.50,247.53 363.60,248.81 366.50,249.20 399.50,249.20" fill="none" stroke="#111" stroke-width="1.3" stroke-linejoin="round"/>
<line x1="330.0" y1="184.9" x2="331.5" y2="184.9" stroke="#777" stroke-width="0.6" />
<text x="329.5" y="186.70000000000002" font-size="5.0" text-anchor="end" font-weight="normal" fill="#333" >100</text>
<line x1="330.0" y1="197.76" x2="331.5" y2="197.76" stroke="#777" stroke-width="0.6" />
<text x="329.5" y="199.56" font-size="5.0" text-anchor="end" font-weight="normal" fill="#333" >80</text>
<line x1="330.0" y1="210.62" x2="331.5" y2="210.62" stroke="#777" stroke-width="0.6" />
<text x="329.5" y="212.42000000000002" font-size="5.0" text-anchor="end" font-weight="normal" fill="#333" >60</text>
<line x1="330.0" y1="223.48" x2="331.5" y2="223.48" stroke="#777" stroke-width="0.6" />
<text x="329.5" y="225.28" font-size="5.0" text-anchor="end" font-weight="normal" fill="#333" >40</text>
<line x1="330.0" y1="236.33999999999997" x2="331.5" y2="236.33999999999997" stroke="#777" stroke-width="0.6" />
<text x="329.5" y="238.14" font-size="5.0" text-anchor="end" font-weight="normal" fill="#333" >20</text>
<line x1="330.0" y1="249.2" x2="331.5" y2="249.2" stroke="#777" stroke-width="0.6" />
<text x="329.5" y="251.0" font-size="5.0" text-anchor="end" font-weight="normal" fill="#333" >0</text>
<line x1="331.5" y1="249.2" x2="331.5" y2="250.7" stroke="#777" stroke-width="0.6" />
<text x="331.5" y="258.9" font-size="5.0" text-anchor="middle" fill="#333">10<tspan dy="-1.9" font-size="3.6">0</tspan></text>
<line x1="348.5" y1="249.2" x2="348.5" y2="250.7" stroke="#777" stroke-width="0.6" />
<text x="348.5" y="258.9" font-size="5.0" text-anchor="middle" fill="#333">10<tspan dy="-1.9" font-size="3.6">1</tspan></text>
<line x1="365.5" y1="249.2" x2="365.5" y2="250.7" stroke="#777" stroke-width="0.6" />
<text x="365.5" y="258.9" font-size="5.0" text-anchor="middle" fill="#333">10<tspan dy="-1.9" font-size="3.6">2</tspan></text>
<line x1="382.5" y1="249.2" x2="382.5" y2="250.7" stroke="#777" stroke-width="0.6" />
<text x="382.5" y="258.9" font-size="5.0" text-anchor="middle" fill="#333">10<tspan dy="-1.9" font-size="3.6">3</tspan></text>
<line x1="399.5" y1="249.2" x2="399.5" y2="250.7" stroke="#777" stroke-width="0.6" />
<text x="399.5" y="258.9" font-size="5.0" text-anchor="middle" fill="#333">10<tspan dy="-1.9" font-size="3.6">4</tspan></text>
<text x="365.3" y="263.9" font-size="5.8" text-anchor="middle" font-weight="bold" fill="#222" stroke="#222" >CD26 PE</text>
<line x1="331.5" y1="249.2" x2="399.5" y2="249.2" stroke="#7a3a3a" stroke-width="0.6" />
<text transform="translate(318.0,212.8) rotate(-90)" font-size="5.65" text-anchor="middle" font-weight="bold" fill="#333">relative cell number (%)</text>
<text x="367.3" y="171.4" font-size="11.6" text-anchor="middle" font-weight="bold" fill="#000" stroke="#000" >54.4%</text>
<text x="365.8" y="281.4" font-size="9.65" text-anchor="middle" font-weight="bold" fill="#000" stroke="#000" >109 months</text>
<polygon points="434.20,249.20 435.50,246.95 438.60,246.31 440.50,248.24 442.40,243.73 443.70,235.70 445.50,240.20 446.80,244.38 448.70,238.91 450.60,227.98 451.80,221.55 452.50,212.55 453.20,193.90 454.40,186.51 455.30,185.86 456.30,193.90 457.60,206.44 458.80,215.76 460.10,212.55 461.30,209.98 463.20,203.55 464.50,207.41 465.70,213.83 466.80,214.48 468.40,236.98 470.00,242.77 472.40,236.98 474.80,233.77 476.20,237.63 478.00,243.41 480.40,239.55 482.00,236.98 483.60,239.55 485.20,243.41 487.60,244.25 490.00,246.63 491.30,248.24 492.70,249.20 502.20,249.20" fill="#f4b9b9"/>
<rect x="434.2" y="181.0" width="68.0" height="68.19999999999999" fill="none" stroke="#b0b0b0" stroke-width="1.3"/>
<polyline points="434.20,249.20 435.50,246.95 438.60,246.31 440.50,248.24 442.40,243.73 443.70,235.70 445.50,240.20 446.80,244.38 448.70,238.91 450.60,227.98 451.80,221.55 452.50,212.55 453.20,193.90 454.40,186.51 455.30,185.86 456.30,193.90 457.60,206.44 458.80,215.76 460.10,212.55 461.30,209.98 463.20,203.55 464.50,207.41 465.70,213.83 466.80,214.48 468.40,236.98 470.00,242.77 472.40,236.98 474.80,233.77 476.20,237.63 478.00,243.41 480.40,239.55 482.00,236.98 483.60,239.55 485.20,243.41 487.60,244.25 490.00,246.63 491.30,248.24 492.70,249.20 502.20,249.20" fill="none" stroke="#c03235" stroke-width="1.05" stroke-linejoin="round"/>
<polyline points="434.20,249.20 434.50,214.48 435.50,242.77 437.40,245.34 439.30,244.06 440.50,242.77 441.80,239.55 443.00,236.98 444.30,231.84 445.50,224.12 446.50,216.41 447.50,209.33 448.80,204.19 449.80,193.90 450.70,185.86 451.30,193.90 451.90,206.44 452.60,217.05 453.70,228.62 454.70,237.63 455.70,242.77 456.70,245.98 458.20,247.91 460.20,249.20 502.20,249.20" fill="none" stroke="#111" stroke-width="1.3" stroke-linejoin="round"/>
<line x1="432.7" y1="184.9" x2="434.2" y2="184.9" stroke="#777" stroke-width="0.6" />
<text x="432.2" y="186.70000000000002" font-size="5.0" text-anchor="end" font-weight="normal" fill="#333" >100</text>
<line x1="432.7" y1="197.76" x2="434.2" y2="197.76" stroke="#777" stroke-width="0.6" />
<text x="432.2" y="199.56" font-size="5.0" text-anchor="end" font-weight="normal" fill="#333" >80</text>
<line x1="432.7" y1="210.62" x2="434.2" y2="210.62" stroke="#777" stroke-width="0.6" />
<text x="432.2" y="212.42000000000002" font-size="5.0" text-anchor="end" font-weight="normal" fill="#333" >60</text>
<line x1="432.7" y1="223.48" x2="434.2" y2="223.48" stroke="#777" stroke-width="0.6" />
<text x="432.2" y="225.28" font-size="5.0" text-anchor="end" font-weight="normal" fill="#333" >40</text>
<line x1="432.7" y1="236.33999999999997" x2="434.2" y2="236.33999999999997" stroke="#777" stroke-width="0.6" />
<text x="432.2" y="238.14" font-size="5.0" text-anchor="end" font-weight="normal" fill="#333" >20</text>
<line x1="432.7" y1="249.2" x2="434.2" y2="249.2" stroke="#777" stroke-width="0.6" />
<text x="432.2" y="251.0" font-size="5.0" text-anchor="end" font-weight="normal" fill="#333" >0</text>
<line x1="434.2" y1="249.2" x2="434.2" y2="250.7" stroke="#777" stroke-width="0.6" />
<text x="434.2" y="258.9" font-size="5.0" text-anchor="middle" fill="#333">10<tspan dy="-1.9" font-size="3.6">0</tspan></text>
<line x1="451.2" y1="249.2" x2="451.2" y2="250.7" stroke="#777" stroke-width="0.6" />
<text x="451.2" y="258.9" font-size="5.0" text-anchor="middle" fill="#333">10<tspan dy="-1.9" font-size="3.6">1</tspan></text>
<line x1="468.2" y1="249.2" x2="468.2" y2="250.7" stroke="#777" stroke-width="0.6" />
<text x="468.2" y="258.9" font-size="5.0" text-anchor="middle" fill="#333">10<tspan dy="-1.9" font-size="3.6">2</tspan></text>
<line x1="485.2" y1="249.2" x2="485.2" y2="250.7" stroke="#777" stroke-width="0.6" />
<text x="485.2" y="258.9" font-size="5.0" text-anchor="middle" fill="#333">10<tspan dy="-1.9" font-size="3.6">3</tspan></text>
<line x1="502.2" y1="249.2" x2="502.2" y2="250.7" stroke="#777" stroke-width="0.6" />
<text x="502.2" y="258.9" font-size="5.0" text-anchor="middle" fill="#333">10<tspan dy="-1.9" font-size="3.6">4</tspan></text>
<text x="468.0" y="263.9" font-size="5.8" text-anchor="middle" font-weight="bold" fill="#222" stroke="#222" >CD26 PE</text>
<line x1="434.2" y1="249.2" x2="502.2" y2="249.2" stroke="#7a3a3a" stroke-width="0.6" />
<text transform="translate(420.7,212.8) rotate(-90)" font-size="5.65" text-anchor="middle" font-weight="bold" fill="#333">relative cell number (%)</text>
<text x="470.3" y="171.4" font-size="11.6" text-anchor="middle" font-weight="bold" fill="#000" stroke="#000" >20.9%</text>
<text x="469.2" y="281.4" font-size="9.65" text-anchor="middle" font-weight="bold" fill="#000" stroke="#000" >110 months</text>
</svg>
</body></html>
